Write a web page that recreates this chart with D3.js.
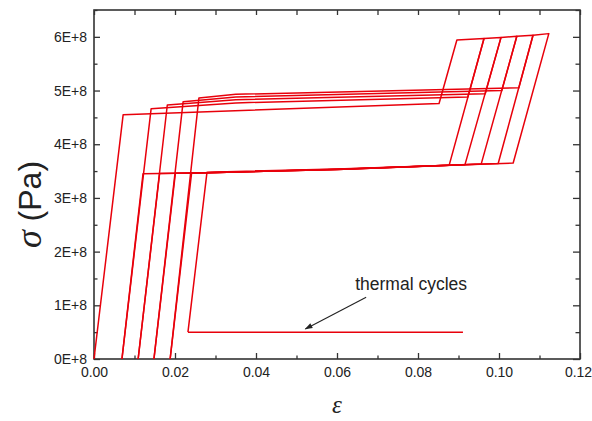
<!DOCTYPE html>
<html>
<head>
<meta charset="utf-8">
<script src="https://cdn.jsdelivr.net/npm/d3@7"></script>
<style>
  body { margin: 0; background: #fff; }
  svg { display: block; font-family: "Liberation Sans", Arial, sans-serif; }
</style>
</head>
<body>
<div id="chart"></div>
<script>
// mechanical cycles, [strain, stress in Pa]
const cycle1 = [[0, 0], [0.0072, 4.55e8], [0.0852, 4.76e8], [0.0896, 5.94e8], [0.0963, 5.97e8],
  [0.0877, 3.61e8], [0.06, 3.53e8], [0.028, 3.47e8], [0.0121, 3.45e8], [0.0069, 0]];
const cycle2 = [[0.0069, 0], [0.0141, 4.66e8], [0.035, 4.77e8], [0.0923, 4.88e8], [0.0963, 5.97e8], [0.1005, 5.99e8],
  [0.0916, 3.62e8], [0.06, 3.53e8], [0.028, 3.47e8], [0.0162, 3.455e8], [0.0109, 0]];
const cycle3 = [[0.0109, 0], [0.0181, 4.73e8], [0.035, 4.83e8], [0.0966, 4.94e8], [0.1005, 5.99e8], [0.1044, 6.01e8],
  [0.0956, 3.63e8], [0.06, 3.53e8], [0.028, 3.47e8], [0.0201, 3.46e8], [0.0148, 0]];
const cycle4 = [[0.0148, 0], [0.0220, 4.79e8], [0.035, 4.88e8], [0.1007, 5.0e8], [0.1044, 6.01e8], [0.1084, 6.03e8],
  [0.0998, 3.64e8], [0.06, 3.535e8], [0.028, 3.47e8], [0.0241, 3.465e8], [0.0188, 0]];
const cycle5 = [[0.0188, 0], [0.0259, 4.86e8], [0.035, 4.93e8], [0.1049, 5.05e8], [0.1084, 6.03e8], [0.1123, 6.06e8],
  [0.1035, 3.65e8], [0.06, 3.54e8], [0.028, 3.48e8], [0.0279, 3.48e8], [0.0232, 0.5e8]];
// thermal cycling at constant stress
const thermal = [[0.0232, 0.5e8], [0.0911, 0.5e8]];

const xTicks = [0, 0.02, 0.04, 0.06, 0.08, 0.10, 0.12];
const xMinor = [0.01, 0.03, 0.05, 0.07, 0.09, 0.11];
const yTicks = [0, 1e8, 2e8, 3e8, 4e8, 5e8, 6e8];
const yMinor = [0.5e8, 1.5e8, 2.5e8, 3.5e8, 4.5e8, 5.5e8, 6.5e8];

const margin = { top: 10, right: 12, bottom: 62, left: 94 };
const width = 592 - margin.left - margin.right;
const height = 421 - margin.top - margin.bottom;

const svg = d3.select("#chart")
  .append("svg")
  .attr("width", 592)
  .attr("height", 421)
  .append("g")
  .attr("transform", `translate(${margin.left},${margin.top})`);

const x = d3.scaleLinear().domain([0, 0.12]).range([0, width]);
const y = d3.scaleLinear().domain([0, 6.5e8]).range([height, 0]);

const axisColor = "#333";

function styleAxis(g) {
  g.selectAll("path").remove();
  g.selectAll("line").attr("stroke", axisColor).attr("stroke-width", 1.3);
  g.selectAll("text").attr("fill", "#222").style("font-size", "14px");
}

// axes with inward ticks
const xAxisG = svg.append("g")
  .attr("transform", `translate(0,${height})`)
  .call(d3.axisBottom(x).tickValues(xTicks).tickSize(-6).tickSizeOuter(0).tickPadding(8)
    .tickFormat(d3.format(".2f")))
  .call(styleAxis);
// last label sits at the window edge
xAxisG.selectAll("text").filter(d => d === 0.12).attr("dx", "-2");

svg.append("g")
  .attr("transform", `translate(0,${height})`)
  .call(d3.axisBottom(x).tickValues(xMinor).tickSize(-3.5).tickFormat(""))
  .call(styleAxis);
svg.append("g")
  .call(d3.axisTop(x).tickValues(xTicks.concat(xMinor)).tickSize(-5).tickFormat(""))
  .call(styleAxis);

svg.append("g")
  .call(d3.axisLeft(y).tickValues(yTicks).tickSize(-6).tickSizeOuter(0).tickPadding(7)
    .tickFormat(d => (d / 1e8) + "E+8"))
  .call(styleAxis);
svg.append("g")
  .call(d3.axisLeft(y).tickValues(yMinor).tickSize(-3.5).tickFormat(""))
  .call(styleAxis);
svg.append("g")
  .attr("transform", `translate(${width},0)`)
  .call(d3.axisRight(y).tickValues(yTicks).tickSize(-7).tickFormat(""))
  .call(styleAxis);
svg.append("g")
  .attr("transform", `translate(${width},0)`)
  .call(d3.axisRight(y).tickValues(yMinor).tickSize(-4.5).tickFormat(""))
  .call(styleAxis);

// frame
svg.append("rect")
  .attr("width", width)
  .attr("height", height)
  .attr("fill", "none")
  .attr("stroke", axisColor)
  .attr("stroke-width", 1.6);

// curves
const line = d3.line().x(d => x(d[0])).y(d => y(d[1]));
svg.selectAll(".curve")
  .data([cycle1, cycle2, cycle3, cycle4, cycle5, thermal])
  .enter()
  .append("path")
  .attr("class", "curve")
  .attr("d", line)
  .attr("fill", "none")
  .attr("stroke", "#e8000b")
  .attr("stroke-width", 1.5)
  .attr("stroke-linejoin", "round");

// annotation
svg.append("defs").append("marker")
  .attr("id", "head")
  .attr("viewBox", "0 0 10 10")
  .attr("refX", 9).attr("refY", 5)
  .attr("markerWidth", 9).attr("markerHeight", 7)
  .attr("orient", "auto")
  .append("path")
  .attr("d", "M0,1.5 L10,5 L0,8.5 Z")
  .attr("fill", "#222");

svg.append("line")
  .attr("x1", x(0.0672)).attr("y1", y(1.15e8))
  .attr("x2", x(0.0522)).attr("y2", y(0.56e8))
  .attr("stroke", "#222")
  .attr("stroke-width", 1.1)
  .attr("marker-end", "url(#head)");

svg.append("text")
  .attr("x", x(0.0645))
  .attr("y", y(1.28e8))
  .style("font-size", "17.5px")
  .attr("fill", "#222")
  .text("thermal cycles");

// axis titles
svg.append("text")
  .attr("x", width / 2)
  .attr("y", height + 54)
  .attr("text-anchor", "middle")
  .style("font-family", "'Liberation Serif', 'DejaVu Serif', serif")
  .style("font-style", "italic")
  .style("font-size", "25px")
  .attr("fill", "#222")
  .text("ε");

const yTitle = svg.append("text")
  .attr("transform", `translate(${-53},${height / 2 + 20}) rotate(-90)`)
  .attr("text-anchor", "middle")
  .style("font-size", "32px")
  .attr("fill", "#222");
yTitle.append("tspan")
  .style("font-family", "'Liberation Serif', 'DejaVu Serif', serif")
  .style("font-style", "italic")
  .style("font-size", "36px")
  .text("σ");
yTitle.append("tspan").text(" (Pa)");
</script>
</body>
</html>
